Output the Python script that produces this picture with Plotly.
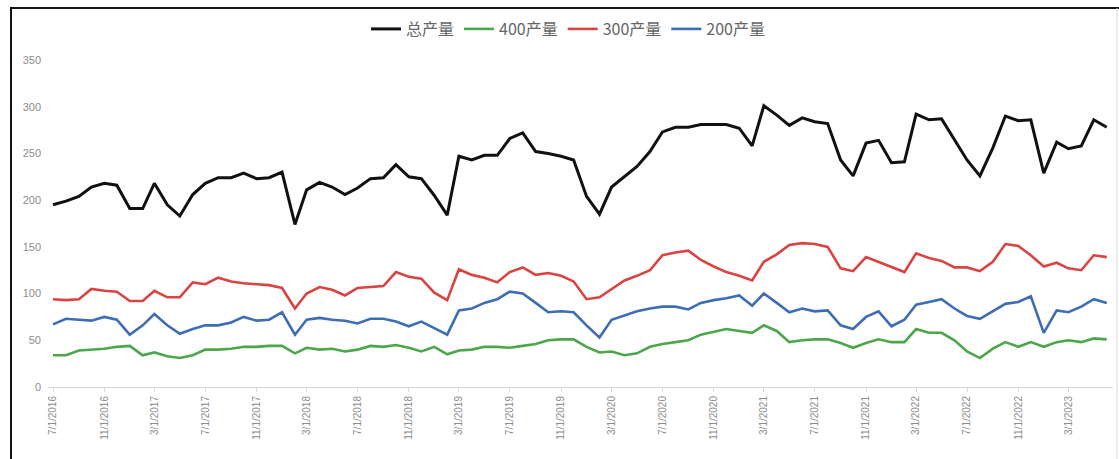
import pandas as pd
import plotly.graph_objects as go

# Monthly production, Jul 2016 - Jun 2023
months = pd.date_range("2016-07-01", "2023-06-01", freq="MS")

total = [195, 199, 204, 214, 218, 216, 191, 191, 218, 195, 183, 206,
         218, 224, 224, 229, 223, 224, 230, 174, 211, 219, 214, 206,
         213, 223, 224, 238, 225, 223, 205, 184, 247, 243, 248, 248,
         266, 272, 252, 250, 247, 243, 204, 185, 214, 225, 236, 252,
         273, 278, 278, 281, 281, 281, 277, 258, 301, 291, 280, 288,
         284, 282, 243, 226, 261, 264, 240, 241, 292, 286, 287, 264,
         243, 226, 256, 290, 285, 286, 229, 262, 255, 258, 286, 278]

p400 = [34, 34, 39, 40, 41, 43, 44, 34, 37, 33, 31, 34,
        40, 40, 41, 43, 43, 44, 44, 36, 42, 40, 41, 38,
        40, 44, 43, 45, 42, 38, 43, 35, 39, 40, 43, 43,
        42, 44, 46, 50, 51, 51, 43, 37, 38, 34, 36, 43,
        46, 48, 50, 56, 59, 62, 60, 58, 66, 60, 48, 50,
        51, 51, 47, 42, 47, 51, 48, 48, 62, 58, 58, 50,
        38, 31, 41, 48, 43, 48, 43, 48, 50, 48, 52, 51]

p300 = [94, 93, 94, 105, 103, 102, 92, 92, 103, 96, 96, 112,
        110, 117, 113, 111, 110, 109, 106, 84, 100, 107, 104, 98,
        106, 107, 108, 123, 118, 116, 101, 93, 126, 120, 117, 112,
        123, 128, 120, 122, 119, 113, 94, 96, 105, 114, 119, 125,
        141, 144, 146, 136, 129, 123, 119, 114, 134, 142, 152, 154,
        153, 150, 127, 124, 139, 134, 129, 123, 143, 138, 135, 128,
        128, 124, 134, 153, 151, 141, 129, 133, 127, 125, 141, 139]

p200 = [67, 73, 72, 71, 75, 72, 56, 66, 78, 66, 57, 62,
        66, 66, 69, 75, 71, 72, 80, 56, 72, 74, 72, 71,
        68, 73, 73, 70, 65, 70, 63, 56, 82, 84, 90, 94,
        102, 100, 90, 80, 81, 80, 66, 53, 72, 77, 81, 84,
        86, 86, 83, 90, 93, 95, 98, 87, 100, 90, 80, 84,
        81, 82, 66, 62, 75, 81, 65, 72, 88, 91, 94, 84,
        76, 73, 81, 89, 91, 97, 58, 82, 80, 86, 94, 90]

series = [
    ("总产量", total, "#111111", 3),
    ("400产量", p400, "#4CA64C", 2.6),
    ("300产量", p300, "#D94442", 2.6),
    ("200产量", p200, "#3E6DB5", 2.6),
]

# Category ticks every four months, labelled M/D/YYYY
tick_dates = months[::4]
tick_text = [f"{d.month}/{d.day}/{d.year}" for d in tick_dates]

fig = go.Figure()
for name, vals, color, width in series:
    fig.add_trace(go.Scatter(
        x=months, y=vals, name=name, mode="lines",
        line=dict(color=color, width=width),
    ))

L, R, T, B = 48, 6, 60, 72
W, H = 1119, 459
pw = W - L - R
ph = H - T - B

def px_to_paper_x(px):
    return (px - L) / pw

def px_to_paper_y(py):
    return (H - B - py) / ph

fig.update_layout(
    width=W, height=H,
    margin=dict(l=L, r=R, t=T, b=B),
    paper_bgcolor="white",
    plot_bgcolor="white",
    font=dict(family="Noto Sans CJK SC, Liberation Sans, sans-serif", color="#7f7f7f"),
    showlegend=True,
    legend=dict(
        orientation="h",
        x=px_to_paper_x(568), xanchor="center",
        y=px_to_paper_y(29), yanchor="middle",
        font=dict(size=16, color="#666666"),
        itemwidth=30,
        tracegroupgap=0,
        bgcolor="rgba(0,0,0,0)",
    ),
    xaxis=dict(
        range=["2016-06-19", "2023-06-16"],
        tickmode="array",
        tickvals=tick_dates,
        ticktext=tick_text,
        tickangle=-90,
        tickfont=dict(size=10, color="#8c8c8c", family="Liberation Sans, sans-serif"),
        showgrid=False,
        showline=True, linecolor="#d9d9d9", linewidth=1,
        ticks="outside", ticklen=4, tickcolor="#d9d9d9",
        zeroline=False,
    ),
    yaxis=dict(
        range=[0, 350],
        tickmode="array",
        tickvals=[0, 50, 100, 150, 200, 250, 300, 350],
        tickfont=dict(size=11, color="#8c8c8c", family="Liberation Sans, sans-serif"),
        showgrid=False,
        showline=False,
        zeroline=False,
        ticks="",
        ticklabelstandoff=6,
    ),
    shapes=[
        # chart frame: dark left and top edges, light right edge
        dict(type="line", xref="paper", yref="paper",
             x0=px_to_paper_x(11), x1=px_to_paper_x(11),
             y0=px_to_paper_y(8), y1=px_to_paper_y(470),
             line=dict(color="#111111", width=2)),
        dict(type="line", xref="paper", yref="paper",
             x0=px_to_paper_x(10), x1=px_to_paper_x(1119),
             y0=px_to_paper_y(8), y1=px_to_paper_y(8),
             line=dict(color="#111111", width=2)),
        dict(type="line", xref="paper", yref="paper",
             x0=px_to_paper_x(1117), x1=px_to_paper_x(1117),
             y0=px_to_paper_y(8), y1=px_to_paper_y(470),
             line=dict(color="#d9d9d9", width=1)),
    ],
)

fig.write_html("out.html")
